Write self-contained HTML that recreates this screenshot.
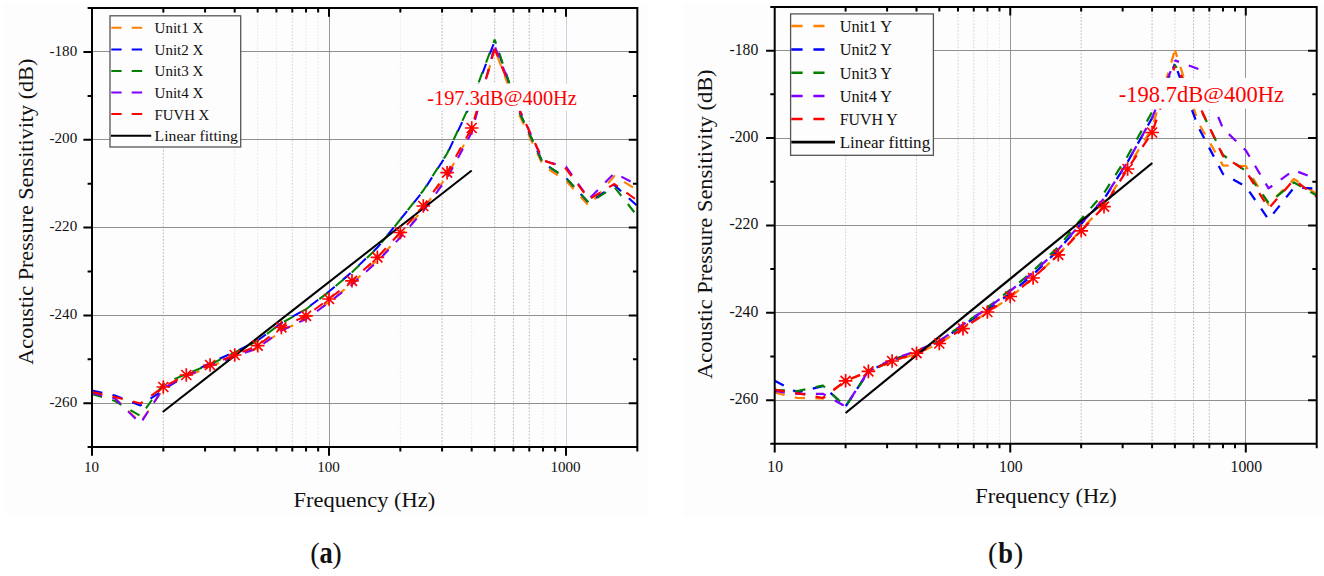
<!DOCTYPE html>
<html><head><meta charset="utf-8"><title>Figure</title>
<style>
html,body{margin:0;padding:0;background:#fff;}
body{width:1324px;height:576px;overflow:hidden;font-family:"Liberation Serif",serif;}
svg{display:block;font-family:"Liberation Serif",serif;}
</style></head><body>
<svg width="1324" height="576" viewBox="0 0 1324 576">
<rect width="1324" height="576" fill="#ffffff"/>
<rect x="4" y="4" width="643" height="511" fill="#fdfdfd"/>
<rect x="684" y="4" width="640" height="511.5" fill="#fdfdfd"/>
<line x1="163.34" y1="8.07" x2="163.34" y2="447.1" stroke="#b6b6bc" stroke-width="1" stroke-dasharray="1.6 1.7"/>
<line x1="234.69" y1="8.07" x2="234.69" y2="447.1" stroke="#e6e6ee" stroke-width="1" stroke-dasharray="1.6 1.7"/>
<line x1="257.66" y1="8.07" x2="257.66" y2="447.1" stroke="#e6e6ee" stroke-width="1" stroke-dasharray="1.6 1.7"/>
<line x1="276.42" y1="8.07" x2="276.42" y2="447.1" stroke="#e6e6ee" stroke-width="1" stroke-dasharray="1.6 1.7"/>
<line x1="292.29" y1="8.07" x2="292.29" y2="447.1" stroke="#d0d0da" stroke-width="1" stroke-dasharray="1.6 1.7"/>
<line x1="306.03" y1="8.07" x2="306.03" y2="447.1" stroke="#e6e6ee" stroke-width="1" stroke-dasharray="1.6 1.7"/>
<line x1="318.16" y1="8.07" x2="318.16" y2="447.1" stroke="#e6e6ee" stroke-width="1" stroke-dasharray="1.6 1.7"/>
<line x1="400.34" y1="8.07" x2="400.34" y2="447.1" stroke="#e6e6ee" stroke-width="1" stroke-dasharray="1.6 1.7"/>
<line x1="442.08" y1="8.07" x2="442.08" y2="447.1" stroke="#b6b6bc" stroke-width="1" stroke-dasharray="1.6 1.7"/>
<line x1="471.69" y1="8.07" x2="471.69" y2="447.1" stroke="#e6e6ee" stroke-width="1" stroke-dasharray="1.6 1.7"/>
<line x1="494.66" y1="8.07" x2="494.66" y2="447.1" stroke="#b6b6bc" stroke-width="1" stroke-dasharray="1.6 1.7"/>
<line x1="513.42" y1="8.07" x2="513.42" y2="447.1" stroke="#b6b6bc" stroke-width="1" stroke-dasharray="1.6 1.7"/>
<line x1="529.29" y1="8.07" x2="529.29" y2="447.1" stroke="#b6b6bc" stroke-width="1" stroke-dasharray="1.6 1.7"/>
<line x1="543.03" y1="8.07" x2="543.03" y2="447.1" stroke="#e6e6ee" stroke-width="1" stroke-dasharray="1.6 1.7"/>
<line x1="555.16" y1="8.07" x2="555.16" y2="447.1" stroke="#e6e6ee" stroke-width="1" stroke-dasharray="1.6 1.7"/>
<line x1="329.5" y1="8.07" x2="329.5" y2="447.1" stroke="#969696" stroke-width="1"/>
<line x1="566.5" y1="8.07" x2="566.5" y2="447.1" stroke="#d0d0e2" stroke-width="1"/>
<line x1="92.0" y1="51.5" x2="637.34" y2="51.5" stroke="#909090" stroke-width="1"/>
<line x1="92.0" y1="139.5" x2="637.34" y2="139.5" stroke="#909090" stroke-width="1"/>
<line x1="92.0" y1="227.5" x2="637.34" y2="227.5" stroke="#909090" stroke-width="1"/>
<line x1="92.0" y1="315.5" x2="637.34" y2="315.5" stroke="#909090" stroke-width="1"/>
<line x1="92.0" y1="403.5" x2="637.34" y2="403.5" stroke="#909090" stroke-width="1"/>
<g fill="none" stroke-width="2.05" stroke-dasharray="10.5 10.5" stroke-linejoin="round">
<polyline points="92.0,392.5 115.0,398 140.4,422.5 163.3,389 186.3,376.5" stroke="#ff8000"/>
<polyline points="186.3,376.5 210.1,366.5 234.7,356.5 257.7,348.5 281.4,331 306.0,319 329.0,302 352.0,283.5 377.4,260 400.3,236 423.3,209 447.1,176 471.7,130.5 494.7,49" stroke="#ff8000" stroke-dashoffset="17.23"/>
<polyline points="494.7,49 518.4,113 543.0,165.5 566.0,181 589.0,206 614.4,176 637.3,190" stroke="#ff8000" stroke-dashoffset="13.50"/>
<polyline points="92.0,390.5 115.0,395.5 140.4,405.5 163.3,390 186.3,375" stroke="#0000ff"/>
<polyline points="186.3,375 210.1,363 234.7,352 257.7,340.5 281.4,323 306.0,309 329.0,291.5 352.0,272 377.4,247.5 400.3,219.5 423.3,191 447.1,154 471.7,102 494.7,41" stroke="#0000ff" stroke-dashoffset="5.05"/>
<polyline points="494.7,41 518.4,110 543.0,163 566.0,178 589.0,203 614.4,185 637.3,206" stroke="#0000ff" stroke-dashoffset="8.45"/>
<polyline points="92.0,394 115.0,401 140.4,416 163.3,384 186.3,374" stroke="#008000"/>
<polyline points="186.3,374 210.1,364.5 234.7,352.5 257.7,340.8 281.4,323.2 306.0,309.2 329.0,291.8 352.0,272.2 377.4,247.8 400.3,219.5 423.3,190.5 447.1,153.5 471.7,101 494.7,39.5" stroke="#008000" stroke-dashoffset="14.72"/>
<polyline points="494.7,39.5 518.4,110 543.0,163 566.0,178 589.0,203 614.4,187 637.3,216" stroke="#008000" stroke-dashoffset="6.08"/>
<polyline points="92.0,393 115.0,398.5 140.4,423.5 163.3,388 186.3,376" stroke="#8000ff"/>
<polyline points="186.3,376 210.1,366 234.7,356.5 257.7,348 281.4,330.5 306.0,319 329.0,302.5 352.0,284.5 377.4,261.5 400.3,237.5 423.3,211 447.1,178 471.7,132.5 494.7,46" stroke="#8000ff" stroke-dashoffset="0.16"/>
<polyline points="494.7,46 518.4,107 543.0,161 566.0,166.5 589.0,199 614.4,173 637.3,185" stroke="#8000ff" stroke-dashoffset="19.61"/>
<polyline points="92.0,392 115.0,397 140.4,403.5 163.3,387 186.3,375" stroke="#ff0000"/>
<polyline points="186.3,375 210.1,365 234.7,355 257.7,345.7 281.4,327.4 306.0,315.8 329.0,299 352.0,280.8 377.4,257.3 400.3,232.5 423.3,206 447.1,172.7 471.7,128 494.7,49" stroke="#ff0000" stroke-dashoffset="2.35"/>
<polyline points="494.7,49 518.4,108 543.0,160 566.0,168.8 589.0,199.3 614.4,184 637.3,200.5" stroke="#ff0000" stroke-dashoffset="2.65"/>
</g>
<line x1="162.7" y1="412" x2="471.7" y2="170.5" stroke="#000" stroke-width="2.05"/>
<g stroke="#ff0000" stroke-width="1.7" fill="none">
<path d="M156.5 387H170.1M163.3 380.2V393.8M158.3 382.0L168.3 392.0M158.3 392.0L168.3 382.0"/>
<path d="M179.5 375H193.1M186.3 368.2V381.8M181.3 370.0L191.3 380.0M181.3 380.0L191.3 370.0"/>
<path d="M203.3 365H216.9M210.1 358.2V371.8M205.1 360.0L215.1 370.0M205.1 370.0L215.1 360.0"/>
<path d="M227.9 355H241.5M234.7 348.2V361.8M229.7 350.0L239.7 360.0M229.7 360.0L239.7 350.0"/>
<path d="M250.9 345.7H264.5M257.7 338.9V352.5M252.7 340.7L262.7 350.7M252.7 350.7L262.7 340.7"/>
<path d="M274.6 327.4H288.2M281.4 320.59999999999997V334.2M276.4 322.4L286.4 332.4M276.4 332.4L286.4 322.4"/>
<path d="M299.2 315.8H312.8M306.0 309.0V322.6M301.0 310.8L311.0 320.8M301.0 320.8L311.0 310.8"/>
<path d="M322.2 299H335.8M329.0 292.2V305.8M324.0 294.0L334.0 304.0M324.0 304.0L334.0 294.0"/>
<path d="M345.2 280.8H358.8M352.0 274.0V287.6M347.0 275.8L357.0 285.8M347.0 285.8L357.0 275.8"/>
<path d="M370.6 257.3H384.2M377.4 250.5V264.1M372.4 252.3L382.4 262.3M372.4 262.3L382.4 252.3"/>
<path d="M393.5 232.5H407.1M400.3 225.7V239.3M395.3 227.5L405.3 237.5M395.3 237.5L405.3 227.5"/>
<path d="M416.5 206H430.1M423.3 199.2V212.8M418.3 201.0L428.3 211.0M418.3 211.0L428.3 201.0"/>
<path d="M440.3 172.7H453.9M447.1 165.89999999999998V179.5M442.1 167.7L452.1 177.7M442.1 177.7L452.1 167.7"/>
<path d="M464.9 128H478.5M471.7 121.2V134.8M466.7 123.0L476.7 133.0M466.7 133.0L476.7 123.0"/>
</g>
<rect x="425" y="83.6" width="156" height="27.2" fill="#fdfdfd"/>
<g font-size="20.4" fill="#ff0000"><text x="427.2" y="105">-197.3dB</text><text transform="translate(503.7 102) scale(1 0.78)">@</text><text x="522.5" y="105">400Hz</text></g>
<rect x="110" y="15.8" width="130.7" height="131.2" fill="#fdfdfd" stroke="#555" stroke-width="1.3"/>
<path d="M111.3 27.7h10.3M131.7 27.7h10.5" stroke="#ff8000" stroke-width="2"/>
<text x="154.6" y="33.2" font-size="15" textLength="48.8" lengthAdjust="spacingAndGlyphs" fill="#111">Unit1 X</text>
<path d="M111.3 49.5h10.3M131.7 49.5h10.5" stroke="#0000ff" stroke-width="2"/>
<text x="154.6" y="55.0" font-size="15" textLength="48.8" lengthAdjust="spacingAndGlyphs" fill="#111">Unit2 X</text>
<path d="M111.3 70.9h10.3M131.7 70.9h10.5" stroke="#008000" stroke-width="2"/>
<text x="154.6" y="76.4" font-size="15" textLength="48.8" lengthAdjust="spacingAndGlyphs" fill="#111">Unit3 X</text>
<path d="M111.3 92.5h10.3M131.7 92.5h10.5" stroke="#8000ff" stroke-width="2"/>
<text x="154.6" y="98.0" font-size="15" textLength="48.8" lengthAdjust="spacingAndGlyphs" fill="#111">Unit4 X</text>
<path d="M111.3 114h10.3M131.7 114h10.5" stroke="#ff0000" stroke-width="2"/>
<text x="154.6" y="119.5" font-size="15" textLength="54.7" lengthAdjust="spacingAndGlyphs" fill="#111">FUVH X</text>
<path d="M111 135.8H151.2" stroke="#000" stroke-width="2"/>
<text x="154.6" y="141.3" font-size="15" textLength="83.3" lengthAdjust="spacingAndGlyphs" fill="#111">Linear fitting</text>
<path d="M92.0 8.07H637.34V447.1H92.0ZM92.00 8.07v8.6M92.00 447.1v8.6M163.34 8.07v4.4M163.34 447.1v4.4M205.08 8.07v4.4M205.08 447.1v4.4M234.69 8.07v4.4M234.69 447.1v4.4M257.66 8.07v4.4M257.66 447.1v4.4M276.42 8.07v4.4M276.42 447.1v4.4M292.29 8.07v4.4M292.29 447.1v4.4M306.03 8.07v4.4M306.03 447.1v4.4M318.16 8.07v4.4M318.16 447.1v4.4M329.00 8.07v8.6M329.00 447.1v8.6M400.34 8.07v4.4M400.34 447.1v4.4M442.08 8.07v4.4M442.08 447.1v4.4M471.69 8.07v4.4M471.69 447.1v4.4M494.66 8.07v4.4M494.66 447.1v4.4M513.42 8.07v4.4M513.42 447.1v4.4M529.29 8.07v4.4M529.29 447.1v4.4M543.03 8.07v4.4M543.03 447.1v4.4M555.16 8.07v4.4M555.16 447.1v4.4M566.00 8.07v8.6M566.00 447.1v8.6M637.34 8.07v4.4M637.34 447.1v4.4M92.0 8.07h-4.4M637.34 8.07h-4.4M92.0 51.97h-8.6M637.34 51.97h-8.6M92.0 95.88h-4.4M637.34 95.88h-4.4M92.0 139.78h-8.6M637.34 139.78h-8.6M92.0 183.68h-4.4M637.34 183.68h-4.4M92.0 227.58h-8.6M637.34 227.58h-8.6M92.0 271.49h-4.4M637.34 271.49h-4.4M92.0 315.39h-8.6M637.34 315.39h-8.6M92.0 359.29h-4.4M637.34 359.29h-4.4M92.0 403.20h-8.6M637.34 403.20h-8.6M92.0 447.10h-4.4M637.34 447.10h-4.4" fill="none" stroke="#000" stroke-width="2.0" stroke-linecap="butt"/>
<text x="77.2" y="55.5" font-size="15.1" text-anchor="end" fill="#111">-180</text>
<text x="77.2" y="143.3" font-size="15.1" text-anchor="end" fill="#111">-200</text>
<text x="77.2" y="231.1" font-size="15.1" text-anchor="end" fill="#111">-220</text>
<text x="77.2" y="318.9" font-size="15.1" text-anchor="end" fill="#111">-240</text>
<text x="77.2" y="406.7" font-size="15.1" text-anchor="end" fill="#111">-260</text>
<text x="91.5" y="472" font-size="15.1" text-anchor="middle" fill="#111">10</text>
<text x="328.5" y="472" font-size="15.1" text-anchor="middle" fill="#111">100</text>
<text x="565.5" y="472" font-size="15.1" text-anchor="middle" fill="#111">1000</text>
<text x="364.4" y="506.5" font-size="20.5" text-anchor="middle" textLength="141.6" lengthAdjust="spacingAndGlyphs" fill="#111">Frequency (Hz)</text>
<text transform="translate(32.6 211.7) rotate(-90)" font-size="22" text-anchor="middle" textLength="306" lengthAdjust="spacingAndGlyphs" fill="#111">Acoustic Pressure Sensitivity (dB)</text>
<text x="310.3" y="563" font-size="28.5" fill="#111">(</text><text x="332.3" y="563" font-size="28.5" fill="#111">)</text>
<text transform="translate(326.2 562.8) scale(1 1.22)" font-size="26.5" font-weight="bold" text-anchor="middle" fill="#111">a</text>
<line x1="845.61" y1="7.0" x2="845.61" y2="443.85" stroke="#d0d0da" stroke-width="1" stroke-dasharray="1.6 1.7"/>
<line x1="916.52" y1="7.0" x2="916.52" y2="443.85" stroke="#d0d0da" stroke-width="1" stroke-dasharray="1.6 1.7"/>
<line x1="957.99" y1="7.0" x2="957.99" y2="443.85" stroke="#d0d0da" stroke-width="1" stroke-dasharray="1.6 1.7"/>
<line x1="973.76" y1="7.0" x2="973.76" y2="443.85" stroke="#d0d0da" stroke-width="1" stroke-dasharray="1.6 1.7"/>
<line x1="987.42" y1="7.0" x2="987.42" y2="443.85" stroke="#e6e6ee" stroke-width="1" stroke-dasharray="1.6 1.7"/>
<line x1="999.47" y1="7.0" x2="999.47" y2="443.85" stroke="#e6e6ee" stroke-width="1" stroke-dasharray="1.6 1.7"/>
<line x1="1081.16" y1="7.0" x2="1081.16" y2="443.85" stroke="#b6b6bc" stroke-width="1" stroke-dasharray="1.6 1.7"/>
<line x1="1152.07" y1="7.0" x2="1152.07" y2="443.85" stroke="#b6b6bc" stroke-width="1" stroke-dasharray="1.6 1.7"/>
<line x1="1174.89" y1="7.0" x2="1174.89" y2="443.85" stroke="#d0d0da" stroke-width="1" stroke-dasharray="1.6 1.7"/>
<line x1="1193.54" y1="7.0" x2="1193.54" y2="443.85" stroke="#b6b6bc" stroke-width="1" stroke-dasharray="1.6 1.7"/>
<line x1="1209.31" y1="7.0" x2="1209.31" y2="443.85" stroke="#b6b6bc" stroke-width="1" stroke-dasharray="1.6 1.7"/>
<line x1="1010.5" y1="7.0" x2="1010.5" y2="443.85" stroke="#969696" stroke-width="1"/>
<line x1="1245.5" y1="7.0" x2="1245.5" y2="443.85" stroke="#969696" stroke-width="1"/>
<line x1="774.7" y1="50.5" x2="1316.71" y2="50.5" stroke="#909090" stroke-width="1"/>
<line x1="774.7" y1="138.5" x2="1316.71" y2="138.5" stroke="#909090" stroke-width="1"/>
<line x1="774.7" y1="225.5" x2="1316.71" y2="225.5" stroke="#909090" stroke-width="1"/>
<line x1="774.7" y1="312.5" x2="1316.71" y2="312.5" stroke="#909090" stroke-width="1"/>
<line x1="774.7" y1="400.5" x2="1316.71" y2="400.5" stroke="#909090" stroke-width="1"/>
<g fill="none" stroke-width="2.25" stroke-dasharray="10.2 10.5" stroke-linejoin="round">
<polyline points="774.7,392.5 797.5,398 822.8,398.5 845.6,381 868.4,372" stroke="#ff8000"/>
<polyline points="868.4,372 892.1,362 916.5,353.5 939.3,343.5 963.0,328 987.4,312.5 1010.2,297.3 1033.1,278.5 1058.3,254.5 1081.2,229.8 1104.0,205.3 1127.6,168 1152.1,128 1174.9,50" stroke="#ff8000" stroke-dashoffset="3.53"/>
<polyline points="1174.9,50 1198.5,123 1223.0,165.5 1245.8,166 1268.6,204.6 1293.9,179 1316.7,194" stroke="#ff8000" stroke-dashoffset="2.96"/>
<polyline points="774.7,380.8 797.5,392.5 822.8,386 845.6,406.5 868.4,371.5" stroke="#0000ff"/>
<polyline points="868.4,371.5 892.1,360 916.5,351.5 939.3,341.5 963.0,325.5 987.4,309.5 1010.2,293.5 1033.1,274.5 1058.3,250 1081.2,224 1104.0,199 1127.6,162 1152.1,118 1174.9,64" stroke="#0000ff" stroke-dashoffset="11.61"/>
<polyline points="1174.9,64 1198.5,127.5 1223.0,174 1245.8,186.4 1268.6,219.5 1293.9,187.7 1316.7,188.4" stroke="#0000ff" stroke-dashoffset="13.03"/>
<polyline points="774.7,390 797.5,391 822.8,385.5 845.6,406.5 868.4,372" stroke="#008000"/>
<polyline points="868.4,372 892.1,360.5 916.5,351.5 939.3,341 963.0,324.5 987.4,307.5 1010.2,290 1033.1,271 1058.3,247 1081.2,219 1104.0,193 1127.6,156 1152.1,112 1174.9,65" stroke="#008000" stroke-dashoffset="9.79"/>
<polyline points="1174.9,65 1198.5,105 1223.0,155 1245.8,171 1268.6,203 1293.9,182.4 1316.7,195.5" stroke="#008000" stroke-dashoffset="6.81"/>
<polyline points="774.7,391 797.5,394 822.8,393.75 845.6,406.5 868.4,371" stroke="#8000ff"/>
<polyline points="868.4,371 892.1,359.5 916.5,351 939.3,341 963.0,324.5 987.4,308.5 1010.2,291 1033.1,272.5 1058.3,249.5 1081.2,223.5 1104.0,198.5 1127.6,162 1152.1,118 1174.9,60.4" stroke="#8000ff" stroke-dashoffset="4.67"/>
<polyline points="1174.9,60.4 1198.5,69 1223.0,128.5 1245.8,150.4 1268.6,188.4 1293.9,170.2 1316.7,179" stroke="#8000ff" stroke-dashoffset="5.88"/>
<polyline points="774.7,389.7 797.5,393.3 822.8,398 845.6,380.8 868.4,371.4" stroke="#ff0000"/>
<polyline points="868.4,371.4 892.1,361 916.5,353.2 939.3,343.5 963.0,328.6 987.4,312 1010.2,296.5 1033.1,278 1058.3,254.8 1081.2,230.8 1104.0,206.6 1127.6,169 1152.1,132.5 1174.9,66" stroke="#ff0000" stroke-dashoffset="9.98"/>
<polyline points="1174.9,66 1198.5,104 1223.0,156 1245.8,170.7 1268.6,208.5 1293.9,179.8 1316.7,196.8" stroke="#ff0000" stroke-dashoffset="10.15"/>
</g>
<line x1="845.6" y1="413" x2="1152.3" y2="163" stroke="#000" stroke-width="2.25"/>
<g stroke="#ff0000" stroke-width="1.7" fill="none">
<path d="M838.8 380.8H852.4M845.6 374.0V387.6M840.6 375.8L850.6 385.8M840.6 385.8L850.6 375.8"/>
<path d="M861.6 371.4H875.2M868.4 364.59999999999997V378.2M863.4 366.4L873.4 376.4M863.4 376.4L873.4 366.4"/>
<path d="M885.3 361H898.9M892.1 354.2V367.8M887.1 356.0L897.1 366.0M887.1 366.0L897.1 356.0"/>
<path d="M909.7 353.2H923.3M916.5 346.4V360.0M911.5 348.2L921.5 358.2M911.5 358.2L921.5 348.2"/>
<path d="M932.5 343.5H946.1M939.3 336.7V350.3M934.3 338.5L944.3 348.5M934.3 348.5L944.3 338.5"/>
<path d="M956.2 328.6H969.8M963.0 321.8V335.40000000000003M958.0 323.6L968.0 333.6M958.0 333.6L968.0 323.6"/>
<path d="M980.6 312H994.2M987.4 305.2V318.8M982.4 307.0L992.4 317.0M982.4 317.0L992.4 307.0"/>
<path d="M1003.5 296.5H1017.0M1010.2 289.7V303.3M1005.2 291.5L1015.2 301.5M1005.2 301.5L1015.2 291.5"/>
<path d="M1026.3 278H1039.9M1033.1 271.2V284.8M1028.1 273.0L1038.1 283.0M1028.1 283.0L1038.1 273.0"/>
<path d="M1051.5 254.8H1065.1M1058.3 248.0V261.6M1053.3 249.8L1063.3 259.8M1053.3 259.8L1063.3 249.8"/>
<path d="M1074.4 230.8H1088.0M1081.2 224.0V237.60000000000002M1076.2 225.8L1086.2 235.8M1076.2 235.8L1086.2 225.8"/>
<path d="M1097.2 206.6H1110.8M1104.0 199.79999999999998V213.4M1099.0 201.6L1109.0 211.6M1099.0 211.6L1109.0 201.6"/>
<path d="M1120.8 169H1134.4M1127.6 162.2V175.8M1122.6 164.0L1132.6 174.0M1122.6 174.0L1132.6 164.0"/>
<path d="M1145.3 132.5H1158.9M1152.1 125.7V139.3M1147.1 127.5L1157.1 137.5M1147.1 137.5L1157.1 127.5"/>
</g>
<rect x="1116" y="77.9" width="172" height="30.8" fill="#fdfdfd"/>
<g font-size="22.5" fill="#ff0000"><text x="1118.8" y="101.9">-198.7dB</text><text transform="translate(1203.2 98.6) scale(1 0.78)">@</text><text x="1223.9" y="101.9">400Hz</text></g>
<rect x="790.6" y="13.9" width="142.8" height="141.4" fill="#fdfdfd" stroke="#555" stroke-width="1.3"/>
<path d="M791.3 26h11.3M813.4 26h11.1" stroke="#ff8000" stroke-width="2.4"/>
<text x="839.7" y="31.9" font-size="16" textLength="52.3" lengthAdjust="spacingAndGlyphs" fill="#111">Unit1 Y</text>
<path d="M791.3 49.5h11.3M813.4 49.5h11.1" stroke="#0000ff" stroke-width="2.4"/>
<text x="839.7" y="55.4" font-size="16" textLength="52.3" lengthAdjust="spacingAndGlyphs" fill="#111">Unit2 Y</text>
<path d="M791.3 72.75h11.3M813.4 72.75h11.1" stroke="#008000" stroke-width="2.4"/>
<text x="839.7" y="78.65" font-size="16" textLength="52.3" lengthAdjust="spacingAndGlyphs" fill="#111">Unit3 Y</text>
<path d="M791.3 96h11.3M813.4 96h11.1" stroke="#8000ff" stroke-width="2.4"/>
<text x="839.7" y="101.9" font-size="16" textLength="52.3" lengthAdjust="spacingAndGlyphs" fill="#111">Unit4 Y</text>
<path d="M791.3 119h11.3M813.4 119h11.1" stroke="#ff0000" stroke-width="2.4"/>
<text x="839.7" y="124.9" font-size="16" textLength="58.1" lengthAdjust="spacingAndGlyphs" fill="#111">FUVH Y</text>
<path d="M791.3 142.2H835" stroke="#000" stroke-width="2.8"/>
<text x="839.7" y="148.1" font-size="16" textLength="90.5" lengthAdjust="spacingAndGlyphs" fill="#111">Linear fitting</text>
<path d="M774.7 7.0H1316.71V443.85H774.7ZM774.70 7.0v8.6M774.70 443.85v8.6M845.61 7.0v4.4M845.61 443.85v4.4M887.09 7.0v4.4M887.09 443.85v4.4M916.52 7.0v4.4M916.52 443.85v4.4M939.34 7.0v4.4M939.34 443.85v4.4M957.99 7.0v4.4M957.99 443.85v4.4M973.76 7.0v4.4M973.76 443.85v4.4M987.42 7.0v4.4M987.42 443.85v4.4M999.47 7.0v4.4M999.47 443.85v4.4M1010.25 7.0v8.6M1010.25 443.85v8.6M1081.16 7.0v4.4M1081.16 443.85v4.4M1122.64 7.0v4.4M1122.64 443.85v4.4M1152.07 7.0v4.4M1152.07 443.85v4.4M1174.89 7.0v4.4M1174.89 443.85v4.4M1193.54 7.0v4.4M1193.54 443.85v4.4M1209.31 7.0v4.4M1209.31 443.85v4.4M1222.97 7.0v4.4M1222.97 443.85v4.4M1235.02 7.0v4.4M1235.02 443.85v4.4M1245.80 7.0v8.6M1245.80 443.85v8.6M1316.71 7.0v4.4M1316.71 443.85v4.4M774.7 7.00h-4.4M1316.71 7.00h-4.4M774.7 50.69h-8.6M1316.71 50.69h-8.6M774.7 94.37h-4.4M1316.71 94.37h-4.4M774.7 138.06h-8.6M1316.71 138.06h-8.6M774.7 181.74h-4.4M1316.71 181.74h-4.4M774.7 225.43h-8.6M1316.71 225.43h-8.6M774.7 269.11h-4.4M1316.71 269.11h-4.4M774.7 312.80h-8.6M1316.71 312.80h-8.6M774.7 356.48h-4.4M1316.71 356.48h-4.4M774.7 400.17h-8.6M1316.71 400.17h-8.6M774.7 443.85h-4.4M1316.71 443.85h-4.4" fill="none" stroke="#000" stroke-width="2.0" stroke-linecap="butt"/>
<text x="758.3" y="54.7" font-size="15.7" text-anchor="end" fill="#111">-180</text>
<text x="758.3" y="142.1" font-size="15.7" text-anchor="end" fill="#111">-200</text>
<text x="758.3" y="229.4" font-size="15.7" text-anchor="end" fill="#111">-220</text>
<text x="758.3" y="316.8" font-size="15.7" text-anchor="end" fill="#111">-240</text>
<text x="758.3" y="404.2" font-size="15.7" text-anchor="end" fill="#111">-260</text>
<text x="775.2" y="471.5" font-size="15.7" text-anchor="middle" fill="#111">10</text>
<text x="1010.8" y="471.5" font-size="15.7" text-anchor="middle" fill="#111">100</text>
<text x="1246.3" y="471.5" font-size="15.7" text-anchor="middle" fill="#111">1000</text>
<text x="1046" y="503.2" font-size="20.5" text-anchor="middle" textLength="141.5" lengthAdjust="spacingAndGlyphs" fill="#111">Frequency (Hz)</text>
<text transform="translate(712.3 224.2) rotate(-90)" font-size="20" text-anchor="middle" textLength="309.6" lengthAdjust="spacingAndGlyphs" fill="#111">Acoustic Pressure Sensitivity (dB)</text>
<text x="988" y="563" font-size="28.5" fill="#111">(</text><text x="1013.8" y="563" font-size="28.5" fill="#111">)</text>
<text transform="translate(1005.6 562.8) scale(1 1.1)" font-size="26.5" font-weight="bold" text-anchor="middle" fill="#111">b</text>
</svg></body></html>
